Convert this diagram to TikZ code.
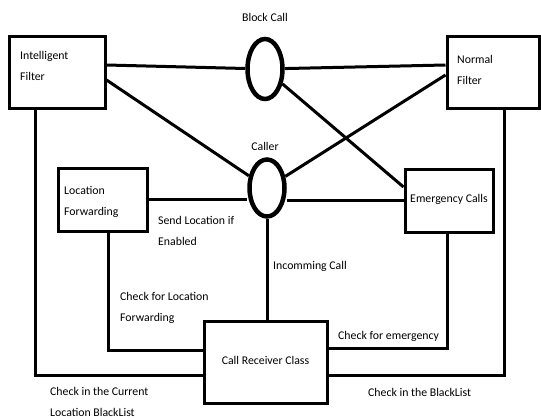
\documentclass[tikz,border=0pt]{standalone}
\usepackage{fontspec}
\setmainfont{Carlito}
\usetikzlibrary{shapes.geometric}

\begin{document}
\begin{tikzpicture}[x=1pt, y=-1pt,
    box/.style={draw, line width=3pt, minimum width=#1, inner sep=0pt},
    hub/.style={draw, ellipse, line width=4.5pt, inner sep=0pt},
    lbl/.style={inner sep=0pt, align=left, font=\fontsize{11.8}{21.5}\selectfont},
    link/.style={line width=3pt}]
    \useasboundingbox (0, 0) rectangle (541, 420);

    % boxes and the two hubs
    \node [box=96pt, minimum height=71pt] (ifilter) at (57, 72.5) {};
    \node [box=92pt, minimum height=71pt] (nfilter) at (493, 72.5) {};
    \node [box=89pt, minimum height=63pt] (locfwd) at (102.5, 199.5) {};
    \node [box=88pt, minimum height=63pt] (emerg) at (449, 200.5) {};
    \node [box=123pt, minimum height=82pt] (receiver) at (265.5, 362) {};
    \node [hub, minimum width=35pt, minimum height=60pt] (blockcall) at (265, 69) {};
    \node [hub, minimum width=35pt, minimum height=57pt] (caller) at (267, 188) {};

    % texts
    \node [lbl] (blockcalltxt) at (265, 17) {Block Call};
    \node [lbl] (callertxt) at (265, 146) {Caller};
    \node [lbl, anchor=west] (ifiltertxt) at (20, 66) {Intelligent\\Filter};
    \node [lbl, anchor=west] (nfiltertxt) at (457, 70) {Normal\\Filter};
    \node [lbl, anchor=west] (locfwdtxt) at (64, 202) {Location\\Forwarding};
    \node [lbl] (emergtxt) at (449, 199) {Emergency Calls};
    \node [lbl] (receivertxt) at (265.5, 360) {Call Receiver Class};
    \node [lbl, anchor=west] (sendloc) at (158, 231) {Send Location if\\Enabled};
    \node [lbl, anchor=west] (chklocfwd) at (120, 308) {Check for Location\\Forwarding};
    \node [lbl, anchor=west] (incoming) at (273, 266) {Incomming Call};
    \node [lbl, anchor=west] (chkemerg) at (338, 336) {Check for emergency};
    \node [lbl, anchor=west] (chkcurrent) at (50, 402) {Check in the Current\\Location BlackList};
    \node [lbl, anchor=west] (chkblack) at (368, 392) {Check in the BlackList};

    % connectors
    \draw [link] (ifilter.east |- 0, 65) -- (blockcall);
    \draw [link] (blockcall) -- (nfilter.west |- 0, 65);
    \draw [link] (ifilter.east |- 0, 80) -- (caller);
    \draw [link] (blockcall) -- (emerg.west |- 0, 187);
    \draw [link] (nfilter.west |- 0, 75) -- (caller);
    \draw [link] (locfwd.east) -- (caller.west |- locfwd.east);
    \draw [link] (caller.east |- emerg.west) -- (emerg.west);
    \draw [link] (caller.south) -- (receiver.north -| caller.south);
    \draw [link] ([xshift=6pt]locfwd.south) |- ([yshift=12pt]receiver.west);
    \draw [link] ([xshift=-22pt]ifilter.south) |- ([yshift=-13pt]receiver.west);
    \draw [link] ([xshift=-2pt]emerg.south) |- ([yshift=14pt]receiver.east);
    \draw [link] ([xshift=11pt]nfilter.south) |- ([yshift=-13pt]receiver.east);
\end{tikzpicture}
\end{document}
